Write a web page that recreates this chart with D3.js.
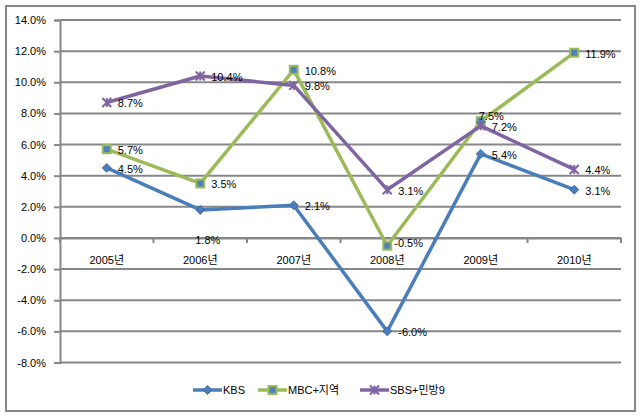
<!DOCTYPE html>
<html><head><meta charset="utf-8">
<script src="https://cdn.jsdelivr.net/npm/d3@7"></script>
<style>
body{margin:0;background:#fff;}
text{font-family:"Liberation Sans",Arial,"Noto Sans CJK KR",sans-serif;font-size:11px;fill:#000;}
</style></head>
<body><svg id="c" width="641" height="416"></svg>
<script>
const categories = ["2005년","2006년","2007년","2008년","2009년","2010년"];
const kbs = [4.5, 1.8, 2.1, -6.0, 5.4, 3.1];
const mbc = [5.7, 3.5, 10.8, -0.5, 7.5, 11.9];
const sbs = [8.7, 10.4, 9.8, 3.1, 7.2, 4.4];
const seriesNames = ["KBS","MBC+지역","SBS+민방9"];
const yTicks = [-8,-6,-4,-2,0,2,4,6,8,10,12,14];

const svg = d3.select("#c");
const L=60, R=621, T=20, B=362.5;
const grid="#878787";
const x = d3.scaleBand().domain(categories).range([L,R]);
const y = d3.scaleLinear().domain([-8,14]).range([B,T]);
const cx = c => x(c)+x.bandwidth()/2;

// border
svg.append("rect").attr("x",6).attr("y",6).attr("width",629).attr("height",405)
  .attr("fill","#fff").attr("stroke",grid).attr("stroke-width",2);

// gridlines
svg.append("g").selectAll("line").data(yTicks).join("line")
  .attr("x1",L).attr("x2",R).attr("y1",d=>y(d)).attr("y2",d=>y(d))
  .attr("stroke",grid).attr("stroke-width",2);

// y axis
const ya = svg.append("g").attr("transform",`translate(${L},0)`)
  .call(d3.axisLeft(y).tickValues(yTicks).tickSize(6).tickPadding(8).tickFormat(d=>d.toFixed(1)+"%"));
ya.select(".domain").attr("stroke",grid).attr("stroke-width",2);
ya.selectAll(".tick line").attr("stroke",grid).attr("stroke-width",2);
ya.selectAll("text").style("font-size","11px");

// x axis at zero
const xa = svg.append("g").attr("transform",`translate(0,${y(0)})`)
  .call(d3.axisBottom(x).tickSize(0).tickPadding(18));
xa.select(".domain").attr("stroke",grid).attr("stroke-width",2);
xa.selectAll("text").style("font-size","11px");
const bounds = categories.map(c=>x(c)).concat([R]);
svg.append("g").selectAll("line").data(bounds).join("line")
  .attr("x1",d=>d).attr("x2",d=>d).attr("y1",y(0)).attr("y2",y(0)+5)
  .attr("stroke",grid).attr("stroke-width",2);

const colors = ["#4A7EBB","#9BBB59","#8064A2"];
const data = [kbs,mbc,sbs];
const line = d3.line().x((d,i)=>cx(categories[i])).y(d=>y(d));

function marker(g, k, px, py){
  if(k===0){
    g.append("path").attr("d",`M${px},${py-4.5}L${px+4.5},${py}L${px},${py+4.5}L${px-4.5},${py}Z`)
      .attr("fill","#4A7EBB").attr("stroke","#3a5f9a").attr("stroke-width",0.8);
  } else if(k===1){
    g.append("rect").attr("x",px-4).attr("y",py-4).attr("width",8).attr("height",8)
      .attr("fill","#4F81BD").attr("stroke","#9BBB59").attr("stroke-width",2);
  } else {
    const s=4.5;
    g.append("path").attr("d",`M${px-s},${py-s}L${px+s},${py+s}M${px-s},${py+s}L${px+s},${py-s}M${px},${py-s}L${px},${py+s}`)
      .attr("stroke","#8064A2").attr("stroke-width",2).attr("fill","none");
  }
}

data.forEach((vals,k)=>{
  svg.append("path").datum(vals).attr("d",line).attr("fill","none")
    .attr("stroke",colors[k]).attr("stroke-width",3.5).attr("stroke-linejoin","round");
  const g = svg.append("g");
  vals.forEach((v,i)=>marker(g,k,cx(categories[i]),y(v)));
});

// label offsets (manual placements seen in the reference)
const special = {"0-1":[-5,30],"1-4":[-2,-5],"1-3":[7,-3]};
const lg = svg.append("g");
data.forEach((vals,k)=>{
  vals.forEach((v,i)=>{
    const o = special[k+"-"+i] || [11,1];
    lg.append("text").attr("x",cx(categories[i])+o[0]).attr("y",y(v)+o[1])
      .attr("dy","0.35em").text(v.toFixed(1)+"%");
  });
});

// legend
const legX=[193,258,360];
seriesNames.forEach((n,k)=>{
  const g = svg.append("g");
  g.append("line").attr("x1",legX[k]).attr("x2",legX[k]+29).attr("y1",390).attr("y2",390)
    .attr("stroke",colors[k]).attr("stroke-width",3.5);
  marker(g,k,legX[k]+14.5,390);
  g.append("text").attr("x",legX[k]+30).attr("y",390).attr("dy","0.35em").text(n);
});
</script></body></html>
